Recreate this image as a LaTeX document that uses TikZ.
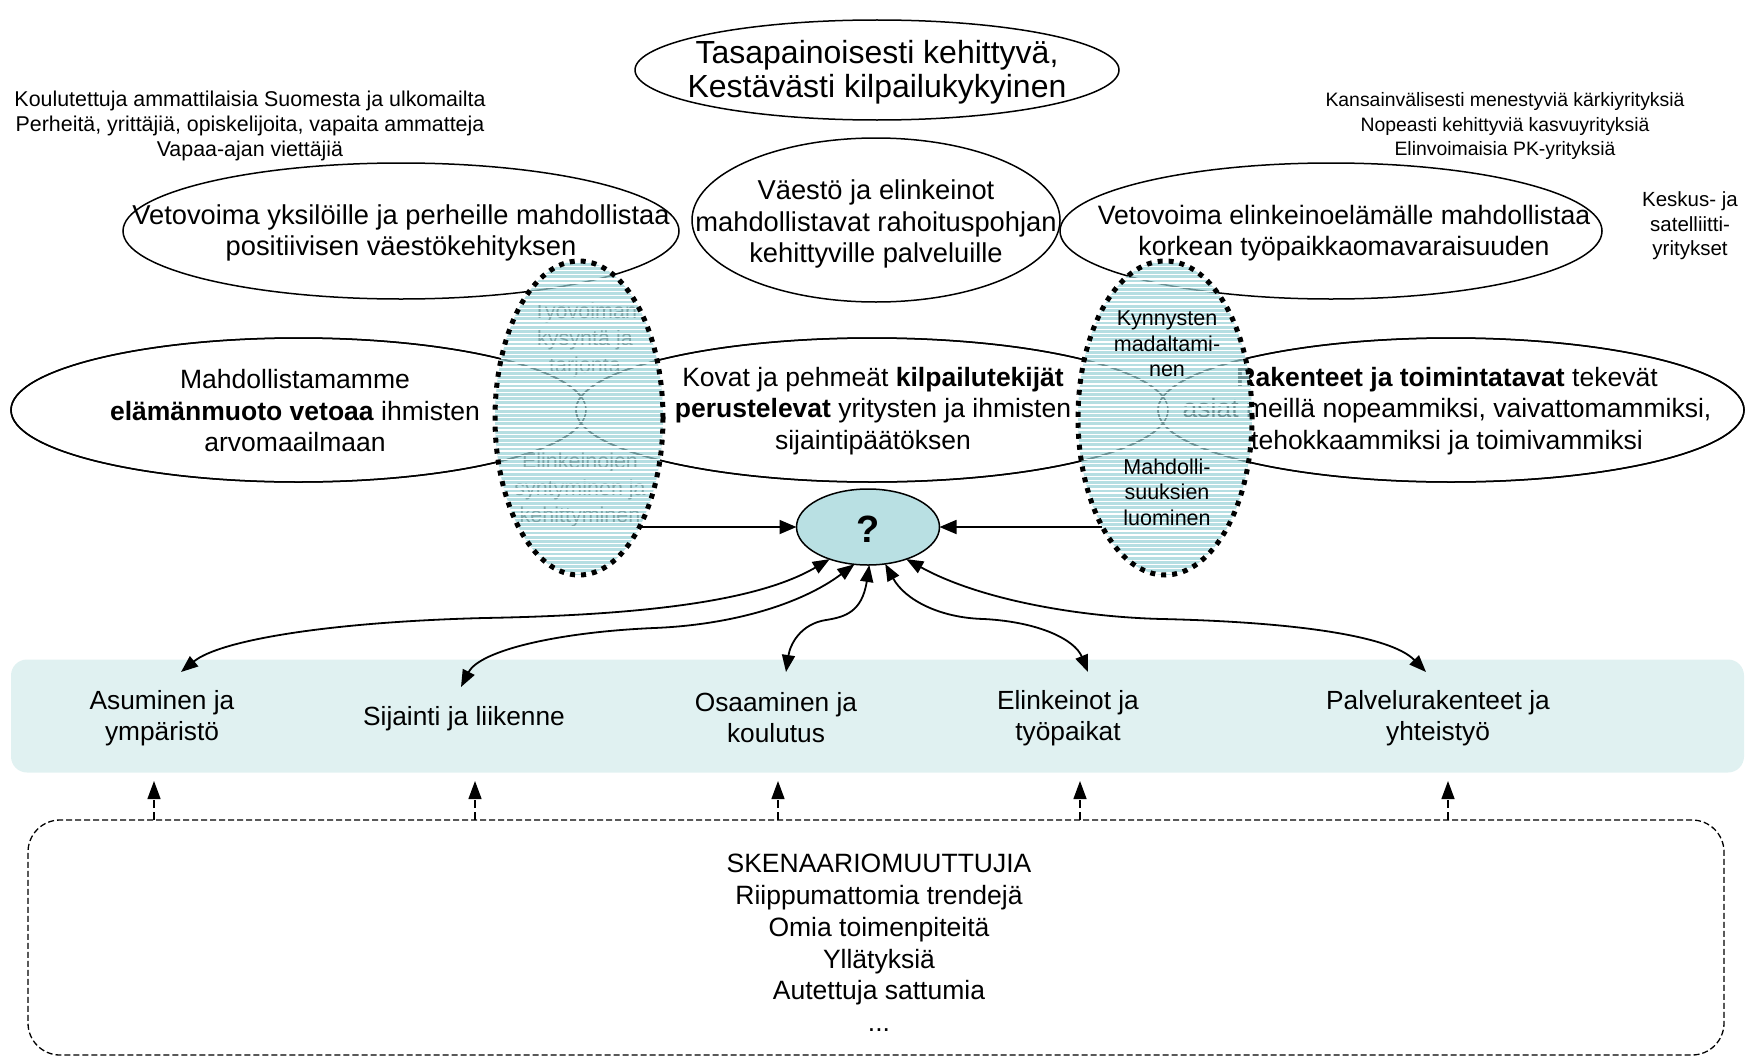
\documentclass[tikz,border=0pt]{standalone}
\usepackage{fontspec}
\setmainfont{Liberation Sans}
\usetikzlibrary{arrows.meta,shapes.geometric}
\definecolor{dotfill}{RGB}{150,208,213}
\definecolor{qfill}{RGB}{185,224,227}
\definecolor{bandfill}{RGB}{224,241,241}
\newcommand\setfs[2]{\fontsize{#1}{#2}\selectfont}
\begin{document}
\begin{tikzpicture}[x=1pt,y=-1pt,
  every node/.style={inner sep=0pt, outer sep=0pt},
  bigell/.style={ellipse, draw=black, line width=1.5pt, fill=white},
  outl/.style={draw=black, line width=1.5pt},
  txt/.style={align=center, font=\setfs{27.3}{31.5}},
  lowtxt/.style={align=center, font=\setfs{26.5}{31.5}},
  smalltxt/.style={align=center, font=\setfs{21.4}{24.7}},
  dottxt/.style={align=center, font=\setfs{21.5}{25.5}},
  hidtxt/.style={align=center, font=\setfs{21.5}{27}, text=black!75},
  dotell/.style={ellipse, fill=dotfill, fill opacity=0.7},
  dotborder/.style={draw=black, line width=5pt, dash pattern=on 5pt off 6pt},
  stripe/.style={draw=white, line width=1.4pt},
  arr/.style={-{Triangle[length=17pt,width=14pt]}, line width=1.8pt},
  darr/.style={{Triangle[length=17pt,width=13pt]}-{Triangle[length=17pt,width=13pt]}, line width=1.8pt},
  uparr/.style={-{Triangle[length=18pt,width=13pt]}, line width=1.3pt, dash pattern=on 8pt off 4pt},
  bandtxt/.style={align=center, font=\setfs{26.3}{31}},
]
\useasboundingbox (0,0) rectangle (1755,1057);

% ---- top goal ----
\node[bigell, minimum width=484pt, minimum height=100pt] (goal) at (877,70) {};
\node[txt, font=\setfs{32}{34}] (goalT) at (877,72) {Tasapainoisesti kehittyvä,\\Kestävästi kilpailukykyinen};

\node[smalltxt] (peopleT) at (250,126) {Koulutettuja ammattilaisia Suomesta ja ulkomailta\\Perheitä, yrittäjiä, opiskelijoita, vapaita ammatteja\\Vapaa-ajan viettäjiä};
\node[smalltxt, font=\setfs{19.4}{24.7}] (firmsT) at (1505,126) {Kansainvälisesti menestyviä kärkiyrityksiä\\Nopeasti kehittyviä kasvuyrityksiä\\Elinvoimaisia PK-yrityksiä};
\node[smalltxt, font=\setfs{20.5}{24.5}] (keskusT) at (1690,226) {Keskus- ja\\satelliitti-\\yritykset};

% ---- upper ellipses ----
\node[bigell, minimum width=556pt, minimum height=136pt] (attrP) at (401,231) {};
\node[txt] (attrPT) at (401,233) {Vetovoima yksilöille ja perheille mahdollistaa\\positiivisen väestökehityksen};
\node[bigell, minimum width=368pt, minimum height=164pt] (fin) at (876,220) {};
\node[txt] (finT) at (876,224) {Väestö ja elinkeinot\\mahdollistavat rahoituspohjan\\kehittyville palveluille};
\node[bigell, minimum width=542pt, minimum height=136pt] (attrB) at (1331,231) {};
\node[txt, font=\setfs{26.6}{31.5}] (attrBT) at (1344,233) {Vetovoima elinkeinoelämälle mahdollistaa\\korkean työpaikkaomavaraisuuden};

% ---- lower ellipses ----
\node[bigell, minimum width=575pt, minimum height=144pt] (life) at (298.5,410) {};
\node[bigell, minimum width=592pt, minimum height=144pt] (fact) at (872,410) {};
\node[bigell, minimum width=586pt, minimum height=144pt] (struc) at (1451,410) {};
\draw[outl] (life.center) ellipse [x radius=287.5pt, y radius=72pt];
\draw[outl] (fact.center) ellipse [x radius=296pt, y radius=72pt];
\draw[outl] (struc.center) ellipse [x radius=293pt, y radius=72pt];
\node[lowtxt] (lifeT) at (295,411) {Mahdollistamamme\\\textbf{elämänmuoto vetoaa} ihmisten\\arvomaailmaan};
\node[lowtxt] (factT) at (873,411) {Kovat ja pehmeät \textbf{kilpailutekijät}\\\textbf{perustelevat} yritysten ja ihmisten\\sijaintipäätöksen};
\node[lowtxt] (strucT) at (1447,411) {\textbf{Rakenteet ja toimintatavat} tekevät\\asiat meillä nopeammiksi, vaivattomammiksi,\\tehokkaammiksi ja toimivammiksi};

% ---- hidden texts of left dotted ellipse ----
\node[hidtxt] (labourT) at (585,340) {Työvoiman\\kysyntä ja\\tarjonta};
\node[hidtxt] (bizT) at (580,490) {Elinkeinojen\\syntyminen ja\\kehittyminen};

% ---- dotted ellipses ----
\node[dotell, minimum width=168pt, minimum height=314pt] (leftDot) at (579,418) {};
\node[dotell, minimum width=174pt, minimum height=314pt] (rightDot) at (1165,418) {};
\begin{scope}
  \clip (579,418) ellipse [x radius=84pt, y radius=157pt];
  \foreach \yy in {262,266.2,...,578} \draw[stripe] (480,\yy) -- (680,\yy);
\end{scope}
\begin{scope}
  \clip (1165,418) ellipse [x radius=87pt, y radius=157pt];
  \foreach \yy in {262,266.2,...,578} \draw[stripe] (1060,\yy) -- (1270,\yy);
\end{scope}
\node[dottxt] (lowerT) at (1167,344) {Kynnysten\\madaltami-\\nen};
\node[dottxt] (createT) at (1167,492) {Mahdolli-\\suuksien\\luominen};
\draw[dotborder] (leftDot.center) ellipse [x radius=84pt, y radius=157pt];
\draw[dotborder] (rightDot.center) ellipse [x radius=87pt, y radius=157pt];

% ---- question ----
\node[ellipse, draw=black, line width=1.5pt, fill=qfill, minimum width=143pt, minimum height=76pt] (q) at (868,527) {};
\node[font=\setfs{38}{40}\bfseries] (qT) at (868,529) {?};

\draw[arr] (leftDot.-60 |- q) -- (q);
\draw[arr] (rightDot.-120 |- q) -- (q);

% ---- band ----
\node[rounded corners=16pt, fill=bandfill, minimum width=1733pt, minimum height=113pt] (band) at (877.5,716) {};
\node[bandtxt] (asum) at (162,718) {Asuminen ja\\ympäristö};
\node[bandtxt] (sij) at (464,719) {Sijainti ja liikenne};
\node[bandtxt] (osa) at (776,718) {Osaaminen ja\\koulutus};
\node[bandtxt] (elin) at (1068,718) {Elinkeinot ja\\työpaikat};
\node[bandtxt] (palv) at (1438,718) {Palvelurakenteet ja\\yhteistyö};

\coordinate (tA) at (181,672);
\coordinate (tS) at (461,687);
\coordinate (tO) at (786,672);
\coordinate (tE) at (1088,672);
\coordinate (tP) at (1426,672);

\draw[darr] (q.220) .. controls (760,600) and (650,615) .. (484,618) .. controls (330,622) and (220,640) .. (tA);
\draw[darr] (q.250) .. controls (800,605) and (730,625) .. (654,628) .. controls (560,632) and (480,650) .. (tS);
\draw[darr] (q.272) .. controls (862,612) and (845,617) .. (826,620) .. controls (800,624) and (790,645) .. (tO);
\draw[darr] (q.295) .. controls (905,600) and (940,618) .. (984,619) .. controls (1040,622) and (1075,640) .. (tE);
\draw[darr] (q.320) .. controls (980,600) and (1080,617) .. (1162,619) .. controls (1290,622) and (1390,635) .. (tP);

% ---- scenario box ----
\node[draw=black, line width=1.3pt, dash pattern=on 6pt off 3pt, rounded corners=32pt, minimum width=1696pt, minimum height=235pt] (scen) at (876,937.5) {};
\node[align=center, font=\setfs{26.5}{31.8}] (scenT) at (879,943) {SKENAARIOMUUTTUJIA\\Riippumattomia trendejä\\Omia toimenpiteitä\\Yllätyksiä\\Autettuja sattumia\\...};

\foreach \n/\xx in {1/154,2/475,3/778,4/1080,5/1448} {
  \coordinate (s\n) at (\xx,820);
  \coordinate (b\n) at (\xx,781);
  \draw[uparr] (s\n) -- (b\n);
}
\end{tikzpicture}
\end{document}
